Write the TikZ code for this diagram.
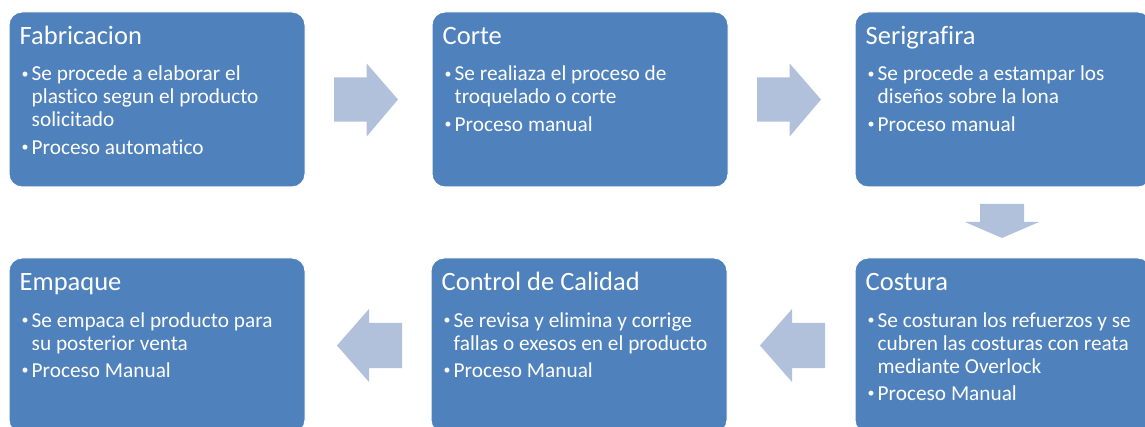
\documentclass[tikz,border=0pt]{standalone}
\usepackage{fontspec}
\setmainfont{Carlito}[Ligatures={NoCommon}]
\definecolor{boxblue}{HTML}{4F81BD}
\definecolor{arrowblue}{HTML}{B2C1DB}
\newcommand\bu{\makebox[12pt][l]{\hspace*{2pt}\raisebox{2.6pt}{\fontsize{14}{14}\selectfont •}}}
\newcommand\ind{\hspace*{12pt}}
\newcommand\blist[1]{{\renewcommand\arraystretch{1}\begin{tabular}[t]{@{}l@{}}#1\end{tabular}}}
\begin{document}
\begin{tikzpicture}[x=1pt,y=-1pt,
  box/.style={draw=white, line width=1pt, fill=boxblue, rounded corners=13pt,
    minimum width=296pt, minimum height=175pt, inner sep=0pt},
  ttl/.style={anchor=base west, inner sep=0pt, text=white, font=\fontsize{26.5}{30}\selectfont},
  bdy/.style={anchor=base west, inner sep=0pt, text=white, font=\fontsize{21.3}{23}\selectfont},
  arr/.style={fill=arrowblue}]
\useasboundingbox (0,0) rectangle (1145,427);
% boxes
\node[box] (b1) at (157,99.5) {};
\node[box] (b2) at (580,99.5) {};
\node[box] (b3) at (1003,99.5) {};
\node[box] (b4) at (1003,345.5) {};
\node[box] (b5) at (579,345.5) {};
\node[box] (b6) at (157,345.5) {};
% titles
\node[ttl] (t1) at ([shift={(11pt,-33.5pt)}]b1.north west) {Fabricacion};
\node[ttl] (t2) at ([shift={(11pt,-33.5pt)}]b2.north west) {Corte};
\node[ttl] (t3) at ([shift={(11pt,-33.5pt)}]b3.north west) {Serigrafira};
\node[ttl] (t4) at ([shift={(11pt,-33.5pt)}]b4.north west) {Costura};
\node[ttl] (t5) at ([shift={(11pt,-33.5pt)}]b5.north west) {Control de Calidad};
\node[ttl] (t6) at ([shift={(11pt,-33.5pt)}]b6.north west) {Empaque};
% bodies
\node[bdy] (d1) at ([shift={(11pt,-69.5pt)}]b1.north west) {\blist{\bu Se procede a elaborar el\\ \ind plastico segun el producto\\ \ind solicitado\\[4.3pt] \bu Proceso automatico}};
\node[bdy] (d2) at ([shift={(11pt,-69.5pt)}]b2.north west) {\blist{\bu Se realiaza el proceso de\\ \ind troquelado o corte\\[4.3pt] \bu Proceso manual}};
\node[bdy] (d3) at ([shift={(11pt,-69.5pt)}]b3.north west) {\blist{\bu Se procede a estampar los\\ \ind diseños sobre la lona\\[4.3pt] \bu Proceso manual}};
\node[bdy] (d4) at ([shift={(11pt,-69.5pt)}]b4.north west) {\blist{\bu Se costuran los refuerzos y se\\ \ind cubren las costuras con reata\\ \ind mediante Overlock\\[4.3pt] \bu Proceso Manual}};
\node[bdy] (d5) at ([shift={(11pt,-69.5pt)}]b5.north west) {\blist{\bu Se revisa y elimina y corrige\\ \ind fallas o exesos en el producto\\[4.3pt] \bu Proceso Manual}};
\node[bdy] (d6) at ([shift={(11pt,-69.5pt)}]b6.north west) {\blist{\bu Se empaca el producto para\\ \ind su posterior venta\\[4.3pt] \bu Proceso Manual}};
% block arrows
\fill[arr] (334,77.3) -- (366.5,77.3) -- (366.5,63.3) -- (398,99.5) -- (366.5,136.7) -- (366.5,121.7) -- (334,121.7) -- cycle;
\fill[arr] (757,77.3) -- (789.5,77.3) -- (789.5,63.3) -- (821,99.5) -- (789.5,136.7) -- (789.5,121.7) -- (757,121.7) -- cycle;
\fill[arr] (980,204) -- (1024,204) -- (1024,222) -- (1039,222) -- (1002,238) -- (965,222) -- (980,222) -- cycle;
\fill[arr] (825,323) -- (792,323) -- (792,309) -- (760,345.5) -- (792,382) -- (792,368) -- (825,368) -- cycle;
\fill[arr] (402,323) -- (369,323) -- (369,309) -- (337,345.5) -- (369,382) -- (369,368) -- (402,368) -- cycle;
\end{tikzpicture}
\end{document}
